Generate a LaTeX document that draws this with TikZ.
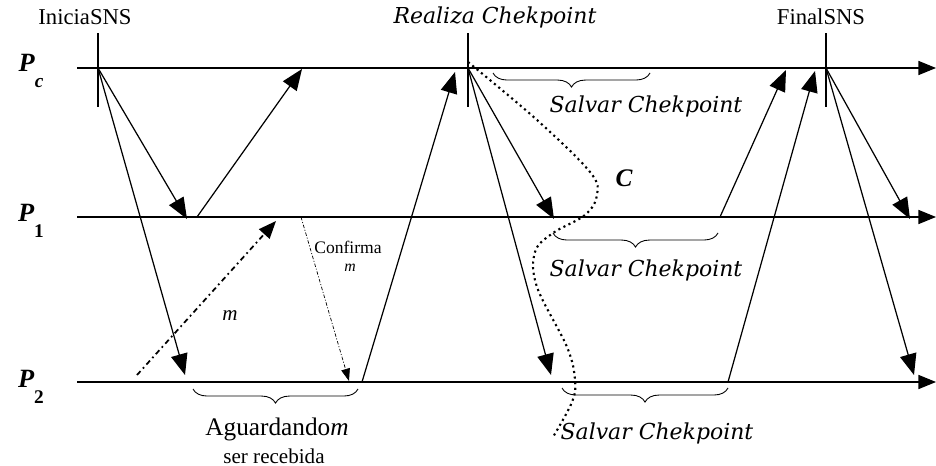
\documentclass[tikz,border=0pt]{standalone}
\usepackage{fontspec}
\setmainfont{Liberation Serif}
\newfontfamily\ckfont{DejaVu Serif}
\usetikzlibrary{arrows.meta,decorations.pathreplacing}

\begin{document}
\begin{tikzpicture}[x=0.02cm,y=-0.02cm,
    proc/.style={line width=0.7pt, -{Triangle[length=10pt,width=8pt]}},
    msg/.style={line width=0.7pt, -{Triangle[length=12pt,width=9.5pt]}},
    msgm/.style={line width=1pt, dash pattern=on 3pt off 2pt on 1pt off 2pt, -{Triangle[length=10pt,width=8pt]}},
    conf/.style={line width=0.4pt, dash pattern=on 2pt off 1pt on 0.6pt off 1pt, -{Triangle[length=7pt,width=5pt]}},
    tick/.style={line width=0.7pt},
    chave/.style={decorate, decoration={brace,mirror,amplitude=8pt}, line width=0.5pt},
    ck/.style={font=\ckfont\itshape\fontsize{12.5}{14}\selectfont},
    plabel/.style={font=\fontsize{15}{17}\selectfont\bfseries\itshape}]
    \useasboundingbox (0,0) rectangle (936,466);

    % linhas dos processos
    \coordinate (pcA) at (77,68);  \coordinate (pcB) at (936,68);
    \coordinate (p1A) at (77,217); \coordinate (p1B) at (936,217);
    \coordinate (p2A) at (77,382); \coordinate (p2B) at (936,382);
    \draw[proc] (pcA) -- (pcB);
    \draw[proc] (p1A) -- (p1B);
    \draw[proc] (p2A) -- (p2B);

    \node[plabel] (lpc) at (31,71) {P\raisebox{-1.3ex}{\fontsize{11}{12}\selectfont c}};
    \node[plabel] (lp1) at (31,221) {P\raisebox{-1.3ex}{\fontsize{11}{12}\selectfont\upshape 1}};
    \node[plabel] (lp2) at (31,387) {P\raisebox{-1.3ex}{\fontsize{11}{12}\selectfont\upshape 2}};

    % marcas
    \coordinate (ini) at (98,68);
    \coordinate (rea) at (468,68);
    \coordinate (fin) at (826,68);
    \foreach \t in {ini,rea,fin}
        \draw[tick] ([yshift=-22]\t) -- ([yshift=20]\t);
    \node[font=\fontsize{12.9}{15}\selectfont] (tini) at (85,17) {IniciaSNS};
    \node[ck] (trea) at (495,17) {Realiza Chekpoint};
    \node[font=\fontsize{12.9}{15}\selectfont] (tfin) at (821,17) {FinalSNS};

    % mensagens
    \coordinate (a1) at (187,219); \coordinate (a2) at (185,375);
    \coordinate (b1) at (197,217); \coordinate (b2) at (302,69);
    \coordinate (c1) at (362,382); \coordinate (c2) at (455,72);
    \coordinate (d1) at (554,219); \coordinate (d2) at (551,375);
    \coordinate (e1) at (720,217); \coordinate (e2) at (786,70);
    \coordinate (f1) at (728,382); \coordinate (f2) at (815,71);
    \coordinate (g1) at (910,219); \coordinate (g2) at (914,375);
    \draw[msg] (ini) -- (a1);
    \draw[msg] (ini) -- (a2);
    \draw[msg] (b1) -- (b2);
    \draw[msg] (c1) -- (c2);
    \draw[msg] (rea) -- (d1);
    \draw[msg] (rea) -- (d2);
    \draw[msg] (e1) -- (e2);
    \draw[msg] (f1) -- (f2);
    \draw[msg] (fin) -- (g1);
    \draw[msg] (fin) -- (g2);

    % mensagem m e confirmacao
    \coordinate (m1) at (137,375); \coordinate (m2) at (276,221);
    \coordinate (k1) at (301,217); \coordinate (k2) at (349,381);
    \draw[msgm] (m1) -- (m2);
    \draw[conf] (k1) -- (k2);
    \node[font=\large\itshape] (lm) at (230,316) {m};
    \node[font=\normalsize] (lconf) at (348,247) {Confirma};
    \node[font=\small\itshape] (lconfm) at (350,268) {m};

    % linha de corte C
    \draw[line width=1.2pt, dotted] plot[smooth, tension=0.6] coordinates {
        (468,62) (537,120) (590,172) (597,195) (585,215) (553,233)
        (535,252) (537,287) (567,347) (575,380) (572,402) (553,437)};
    \node[font=\Large\bfseries\itshape] (lc) at (624,178) {C};

    % salvar checkpoint
    \draw[chave] (493,73) -- (650,73);
    \node[ck] (tsv0) at (646,106) {Salvar Chekpoint};
    \draw[chave] (553,233) -- (718,233);
    \node[ck] (tsv1) at (646,270) {Salvar Chekpoint};
    \draw[chave] (562,388) -- (728,388);
    \node[ck] (tsv2) at (657,433) {Salvar Chekpoint};
    \draw[chave] (193,389) -- (358,389);
    \node[font=\fontsize{14.4}{16}\selectfont] (tag) at (277,429) {Aguardando\textit{m}};
    \node[font=\fontsize{12}{14}\selectfont] (tag2) at (274,456) {ser recebida};
\end{tikzpicture}
\end{document}
